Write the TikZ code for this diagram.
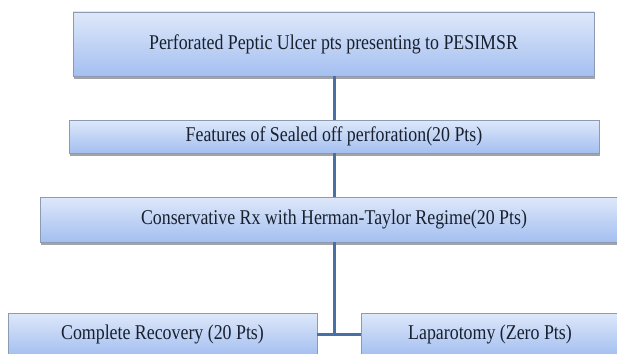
\documentclass[tikz,border=0pt]{standalone}
\usepackage{fontspec}
\setmainfont{Liberation Serif}[FakeStretch=0.85]
\usetikzlibrary{shadows}
\definecolor{boxtop}{HTML}{DEE8FA}
\definecolor{boxbot}{HTML}{A4BFF0}
\definecolor{boxline}{HTML}{8C9AB4}
\definecolor{conn}{HTML}{4A6FA6}
\definecolor{txt}{HTML}{18202E}
\tikzset{
  flowbox/.style={rectangle, draw=boxline, line width=0.8pt,
    top color=boxtop, bottom color=boxbot, text=txt,
    font=\fontsize{21}{24}\selectfont, inner sep=0pt,
    drop shadow={shadow xshift=1pt, shadow yshift=-2.5pt, opacity=0.55, fill=black!65}},
  link/.style={draw=conn, line width=3pt}
}
\begin{document}
\begin{tikzpicture}[x=1pt,y=-1pt]
\useasboundingbox (0,0) rectangle (617,353);
\clip (0,0) rectangle (617,353);
\fill[white] (0,0) rectangle (617,353);
\coordinate (j) at (334,334);
\node[flowbox, minimum width=521pt, minimum height=64pt] (b1) at (333.5,44) {Perforated Peptic Ulcer pts presenting to PESIMSR};
\node[flowbox, minimum width=530pt, minimum height=33pt] (b2) at (334,136.5) {Features of Sealed off perforation(20 Pts)};
\node[flowbox, minimum width=588pt, minimum height=45pt] (b3) at (334,219.5) {Conservative Rx with Herman-Taylor Regime(20 Pts)};
\node[flowbox, minimum width=309pt, minimum height=42pt] (b4) at (162.5,334) {Complete Recovery (20 Pts)};
\node[flowbox, minimum width=258pt, minimum height=42pt] (b5) at (490,334) {Laparotomy (Zero Pts)};
\draw[link] (b1.south -| j) -- (b2.north -| j);
\draw[link] (b2.south -| j) -- (b3.north -| j);
\draw[link] (b3.south -| j) -- (j);
\draw[link] (b4.east) -- (j) -- (b5.west);
\end{tikzpicture}
\end{document}
